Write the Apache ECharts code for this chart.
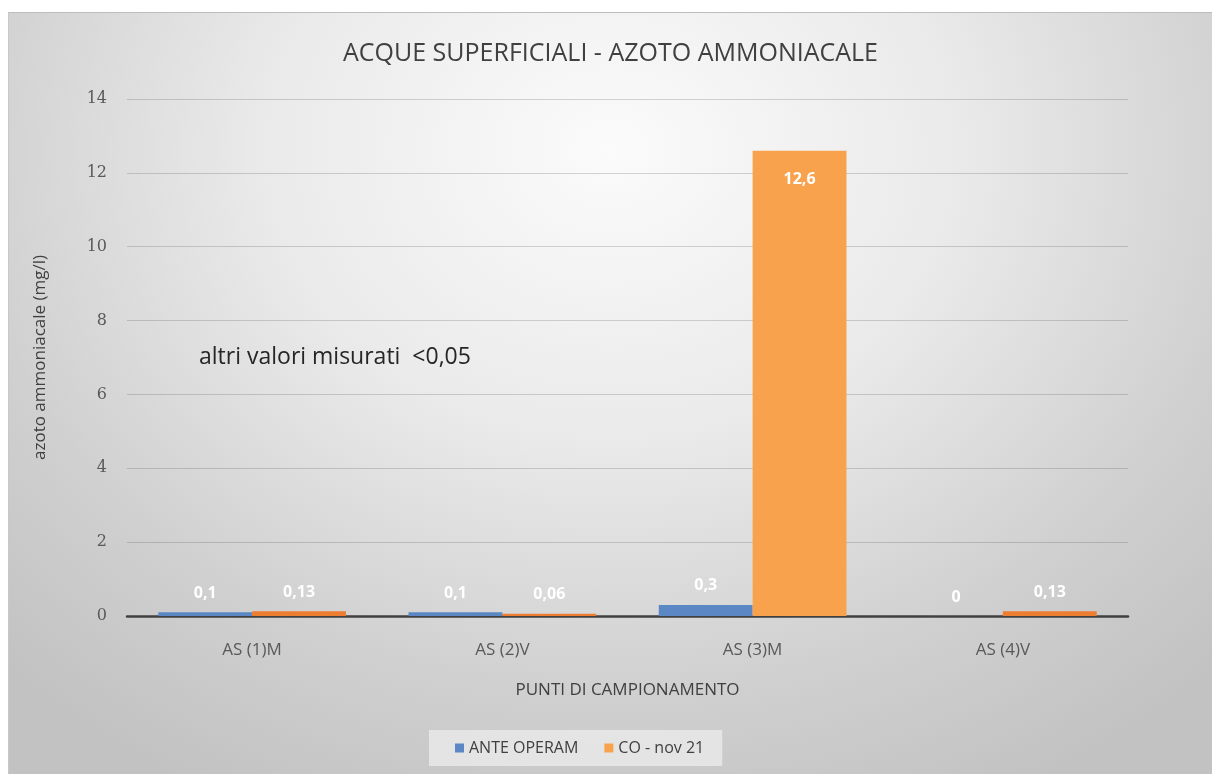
<!DOCTYPE html>
<html>
<head>
<meta charset="utf-8">
<style>
  html, body { margin: 0; padding: 0; background: #fff; }
  #frame {
    position: absolute; left: 8px; top: 12px; width: 1204px; height: 762px;
    border-top: 1px solid #bdbdbd; border-left: 1px solid #c8c8c8; box-sizing: border-box;
    background: radial-gradient(ellipse 72% 95% at 50% 18%, #fbfbfb 0%, #eaeaea 40%, #d0d0d0 75%, #c2c2c2 100%);
  }
  #chart { width: 100%; height: 100%; }
</style>
<script src="https://cdn.jsdelivr.net/npm/echarts@6/dist/echarts.min.js"></script>
</head>
<body>
<div id="frame"><div id="chart"></div></div>
<script>
// dati
var categories = ['AS (1)M', 'AS (2)V', 'AS (3)M', 'AS (4)V'];
var anteOperam = [0.1, 0.1, 0.3, 0];
var coNov21 = [0.13, 0.06, 12.6, 0.13];
var yTicks = { min: 0, max: 14, interval: 2 };

var fmt = function (p) { return String(p.value).replace('.', ','); };

var myChart = echarts.init(document.getElementById('chart'));
myChart.setOption({
  backgroundColor: 'transparent',
  animation: false,
  title: {
    text: 'ACQUE SUPERFICIALI - AZOTO AMMONIACALE',
    left: 'center',
    top: 23,
    textStyle: { fontFamily: 'Open Sans', fontSize: 25, fontWeight: 'normal', color: '#404040' }
  },
  legend: {
    bottom: 8,
    left: 420,
    data: ['ANTE OPERAM', 'CO - nov 21'],
    icon: 'rect',
    itemWidth: 9,
    itemHeight: 9,
    itemGap: 26,
    padding: [10, 18, 10, 26],
    backgroundColor: 'rgba(236,236,236,0.75)',
    textStyle: { fontFamily: 'Open Sans', fontSize: 16, color: '#404040' }
  },
  grid: { left: 118, right: 84, top: 86, bottom: 158, containLabel: false },
  xAxis: {
    type: 'category',
    data: categories,
    name: 'PUNTI DI CAMPIONAMENTO',
    nameLocation: 'middle',
    nameGap: 66,
    nameTextStyle: { fontFamily: 'Open Sans', fontSize: 17, color: '#404040' },
    axisLine: { lineStyle: { color: '#404040', width: 2.5 } },
    axisTick: { show: false },
    axisLabel: { margin: 26, fontFamily: 'Open Sans', fontSize: 17, color: '#595959' }
  },
  yAxis: {
    type: 'value',
    min: yTicks.min,
    max: yTicks.max,
    interval: yTicks.interval,
    name: 'azoto ammoniacale (mg/l)',
    nameLocation: 'middle',
    nameGap: 78,
    nameTextStyle: { fontFamily: 'Open Sans', fontSize: 17, color: '#404040' },
    axisLine: { show: false },
    axisTick: { show: false },
    axisLabel: { margin: 20, fontFamily: 'DejaVu Serif', fontSize: 16, color: '#595959' },
    splitLine: { lineStyle: { color: 'rgba(70,70,70,0.22)', width: 1.2 } }
  },
  graphic: [{
    type: 'text',
    left: 190,
    top: 333,
    style: { text: 'altri valori misurati  <0,05', fontFamily: 'Open Sans', fontSize: 23, fill: '#262626' }
  }],
  series: [{
    name: 'ANTE OPERAM',
    type: 'bar',
    barGap: '0%',
    barCategoryGap: '25%',
    data: anteOperam,
    itemStyle: { color: '#5b87c5' },
    label: {
      show: true, position: 'top', distance: 11, formatter: fmt,
      fontFamily: 'Open Sans', fontSize: 16, fontWeight: 'bold', color: '#ffffff'
    }
  }, {
    name: 'CO - nov 21',
    type: 'bar',
    data: coNov21.map(function (v) {
      var big = v > 5;
      return {
        value: v,
        itemStyle: { color: big ? '#f9a24d' : '#ec7d31' },
        label: big ? { position: 'insideTop', distance: 21 } : {}
      };
    }),
    itemStyle: { color: '#f9a24d' },
    label: {
      show: true, position: 'top', distance: 11, formatter: fmt,
      fontFamily: 'Open Sans', fontSize: 16, fontWeight: 'bold', color: '#ffffff'
    }
  }]
});
</script>
</body>
</html>
